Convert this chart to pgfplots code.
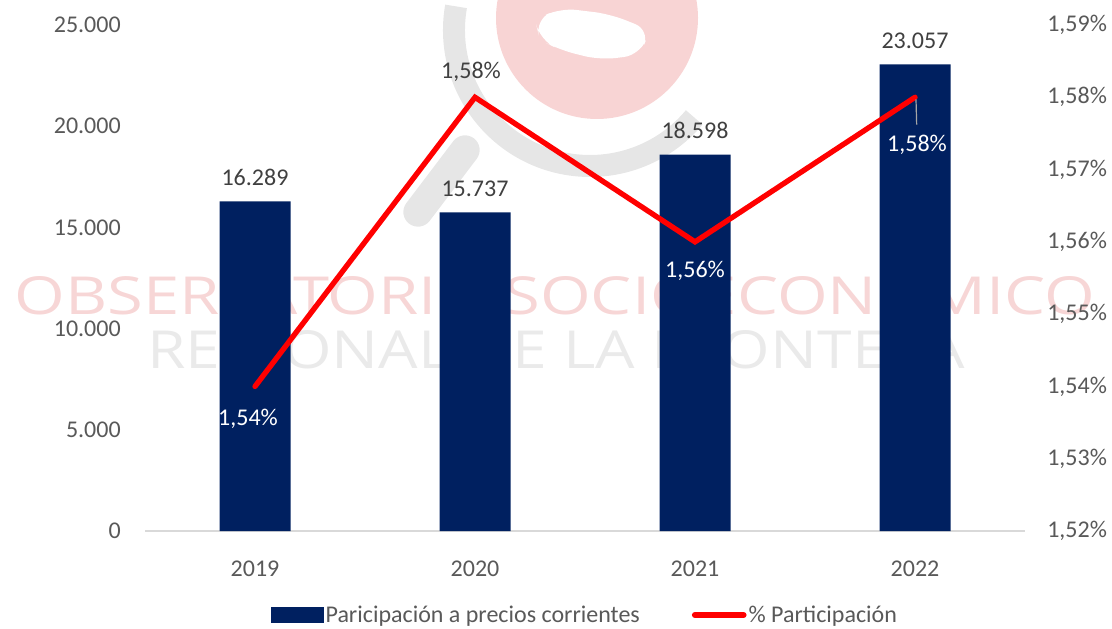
\documentclass[border=0pt]{standalone}
\usepackage{pgfplots}
\pgfplotsset{compat=1.18}
\usepackage{fontspec}
\setmainfont{Carlito}
\newfontfamily\wmfont{Open Sans}
\definecolor{navy}{HTML}{002060}
\definecolor{tickgray}{HTML}{595959}
\definecolor{lblgray}{HTML}{404040}
\definecolor{wmpink}{HTML}{F7D6D6}
\definecolor{wmgray}{HTML}{EAEAEA}
\definecolor{logored}{HTML}{F8D4D4}
\definecolor{logogray}{HTML}{E6E6E6}
\definecolor{axgray}{HTML}{D9D9D9}
\definecolor{leader}{HTML}{A6A6A6}
\newcommand\lbl{\fontsize{18}{21}\selectfont}
\newcommand\wmtop{\node[text=wmpink, inner sep=0pt] at (555,296) {\resizebox{810pt}{28.5pt}{\wmfont OBSERVATORIO SOCIOECONOMICO}};}
\begin{document}
\begin{tikzpicture}
\useasboundingbox (0,0) rectangle (834pt,471pt);
% watermark (pixel coordinates)
\begin{scope}[x=0.75pt,y=-0.75pt,yshift=471pt]
  \fill[logored] (597,18) circle (101);
  \fill[white, rounded corners=12pt] (535,20) -- (560,8) -- (610,14) -- (650,30) -- (640,55) -- (600,60) -- (560,50) -- (540,40) -- cycle;
  \draw[logogray, line width=16.5pt] (590,30) ++(190:136) arc[start angle=190,end angle=40,radius=136];
  \draw[logogray, line width=22pt, line cap=round] (465,150) -- (418,212);
  \wmtop
  \node[text=wmgray, inner sep=0pt] at (556,350) {\resizebox{613pt}{28.5pt}{\wmfont REGIONAL DE LA FRONTERA}};
\end{scope}
\begin{axis}[
  at={(108.75pt,72.75pt)}, anchor=south west,
  width=660pt, height=379.5pt, scale only axis,
  xmin=-0.5, xmax=3.5, ymin=0, ymax=25000,
  axis x line*=bottom, axis y line*=left,
  x axis line style={axgray, line width=1.1pt, -},
  y axis line style={draw=none},
  ybar, bar width=53.25pt,
  scaled y ticks=false,
  xtick={0,1,2,3}, xticklabels={2019,2020,2021,2022},
  ytick={0,5000,10000,15000,20000,25000},
  yticklabels={0,5.000,10.000,15.000,20.000,25.000},
  tick style={draw=none},
  tick label style={font=\lbl, text=tickgray, inner sep=0pt},
  y tick label style={anchor=east, xshift=-18pt},
  x tick label style={anchor=north, yshift=-18pt},
  nodes near coords, point meta=explicit symbolic,
  every node near coord/.append style={font=\lbl, text=lblgray, inner sep=0pt, anchor=south, yshift=11.5pt},
  clip=false,
]
\addplot[fill=navy, draw=none] coordinates {(0,16289)[16.289] (1,15737)[15.737] (2,18598)[18.598] (3,23057)[23.057]};
\end{axis}
\begin{axis}[
  name=ax2,
  at={(108.75pt,72.75pt)}, anchor=south west,
  width=660pt, height=379.5pt, scale only axis,
  xmin=-0.5, xmax=3.5, ymin=1.52, ymax=1.59,
  axis y line*=right, hide x axis,
  axis line style={draw=none, draw opacity=0},
  y axis line style={draw=none, draw opacity=0},
  scaled y ticks=false,
  ytick={1.52,1.53,1.54,1.55,1.56,1.57,1.58,1.59},
  yticklabels={{1,52\%},{1,53\%},{1,54\%},{1,55\%},{1,56\%},{1,57\%},{1,58\%},{1,59\%}},
  tick style={draw=none}, major tick length=0pt,
  tick label style={font=\lbl, text=tickgray, inner sep=0pt},
  y tick label style={anchor=west, xshift=16.5pt},
  legend columns=2,
  legend cell align=left,
  legend style={at={(0.5,-0.166)}, anchor=center, draw=none, fill=none,
    font=\lbl, text=tickgray, nodes={inner sep=1.5pt},
    /tikz/every even column/.append style={column sep=37.5pt}},
  clip=false,
]
\addlegendimage{legend image code/.code={\fill[navy] (0pt,-5.6pt) rectangle (39pt,5.6pt);}}
\addlegendentry{Paricipación a precios corrientes}
\addplot[red, line width=4pt, line cap=round, mark=none,
  legend image code/.code={\draw[red, line width=4.5pt, line cap=round] (1.5pt,0pt) -- (38pt,0pt);}]
  coordinates {(0,1.54) (1,1.58) (2,1.56) (3,1.58)};
\addlegendentry{\% Participación}
\node[font=\lbl, text=white, xshift=-5.25pt, yshift=-24pt] at (axis cs:0,1.54) {1,54\%};
\node[font=\lbl, text=lblgray, xshift=-3pt, yshift=18.75pt] at (axis cs:1,1.58) {1,58\%};
\node[font=\lbl, text=white, yshift=-22pt] at (axis cs:2,1.56) {1,56\%};
\node[font=\lbl, text=white, xshift=1.5pt, yshift=-36pt] at (axis cs:3,1.58) {1,58\%};
\draw[leader, line width=0.9pt] (axis cs:3,1.58) ++(0.75pt,-1.5pt) -- ++(0.5pt,-19pt);
\end{axis}
\begin{scope}
  \fill[white] ([xshift=-3pt,yshift=1pt]ax2.south east) rectangle ([xshift=14pt,yshift=60pt]ax2.north east);
  \clip ([xshift=-3pt,yshift=1pt]ax2.south east) rectangle ([xshift=14pt,yshift=60pt]ax2.north east);
  \begin{scope}[x=0.75pt,y=-0.75pt,yshift=471pt]
    \wmtop
  \end{scope}
\end{scope}
\end{tikzpicture}
\end{document}
